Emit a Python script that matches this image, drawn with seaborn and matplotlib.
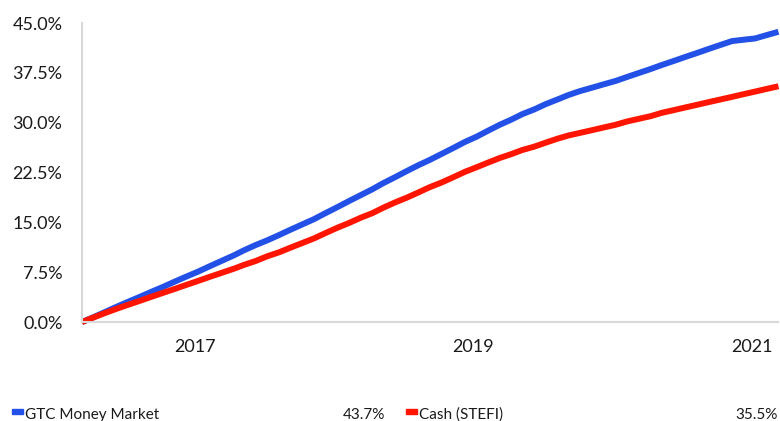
import pandas as pd
import matplotlib.pyplot as plt
import matplotlib.transforms as mtransforms
import seaborn as sns

# monthly cumulative returns (%), Jan 2016 - Jan 2021
dates = pd.date_range('2016-01-01', '2021-01-01', freq='MS')
gtc_money_market = [0.0, 0.75, 1.5, 2.3, 3.05, 3.8, 4.55, 5.3, 6.1, 6.85, 7.6, 8.4,
                    9.2, 10.0, 10.8, 11.6, 12.3, 13.1, 13.9, 14.7, 15.5, 16.4, 17.3, 18.2,
                    19.1, 20.0, 20.9, 21.8, 22.7, 23.6, 24.4, 25.3, 26.2, 27.1, 27.9, 28.8,
                    29.7, 30.5, 31.3, 32.0, 32.8, 33.5, 34.2, 34.8, 35.3, 35.8, 36.3, 36.9,
                    37.5, 38.1, 38.7, 39.3, 39.9, 40.5, 41.1, 41.7, 42.3, 42.5, 42.7, 43.2,
                    43.7]
cash_stefi = [0.0, 0.7, 1.35, 2.0, 2.6, 3.2, 3.8, 4.4, 5.0, 5.6, 6.2, 6.8,
              7.4, 8.0, 8.6, 9.2, 9.9, 10.5, 11.2, 11.9, 12.6, 13.4, 14.2, 14.9,
              15.7, 16.4, 17.2, 18.0, 18.7, 19.5, 20.3, 21.0, 21.8, 22.6, 23.3, 24.0,
              24.7, 25.3, 25.9, 26.4, 27.0, 27.6, 28.1, 28.5, 28.9, 29.3, 29.7, 30.2,
              30.6, 31.0, 31.5, 31.9, 32.3, 32.7, 33.1, 33.5, 33.9, 34.3, 34.7, 35.1,
              35.5]
series_names = ['GTC Money Market', 'Cash (STEFI)']
final_values = ['43.7%', '35.5%']
colors = ['#2350e6', '#ff1500']
tick_years = ['2016', '2017', '2019', '2021']
tick_labels = ['', '2017', '2019', '2021']
y_ticks = [0, 7.5, 15, 22.5, 30, 37.5, 45]

df = pd.DataFrame({'date': list(dates) * 2,
                   'value': gtc_money_market + cash_stefi,
                   'series': [series_names[0]] * len(dates) + [series_names[1]] * len(dates)})

sns.set_style('white')
plt.rcParams['font.family'] = ['Lato', 'DejaVu Sans']
grey = '#d9d9d9'

fig = plt.figure(figsize=(7.8, 4.21), dpi=100)
ax = fig.add_axes([0.105, 0.235, 0.893, 0.71])
sns.lineplot(data=df, x='date', y='value', hue='series', palette=colors,
             linewidth=4.3, legend=False, ax=ax, solid_capstyle='butt')

ax.set_xlim(dates[0], dates[-1])
ax.set_ylim(0, 45)
ax.set_yticks(y_ticks)
ax.set_yticklabels([f'{v:.1f}%' for v in y_ticks])
ax.set_xticks([pd.Timestamp(y + '-01-01') for y in tick_years])
ax.set_xticklabels(tick_labels, ha='right')
ax.set_xlabel('')
ax.set_ylabel('')

for s in ['top', 'right']:
    ax.spines[s].set_visible(False)
for s in ['left', 'bottom']:
    ax.spines[s].set_color(grey)
    ax.spines[s].set_linewidth(1.5)
ax.tick_params(axis='y', length=10, width=1.5, color=grey, pad=4, labelsize=13, labelcolor='#1a1a1a')
ax.tick_params(axis='x', length=12, width=1.5, color=grey, pad=0, labelsize=13, labelcolor='#1a1a1a')
offset = mtransforms.ScaledTranslation(-4 / 72, 0, fig.dpi_scale_trans)
for lbl in ax.get_xticklabels():
    lbl.set_transform(lbl.get_transform() + offset)
for line in ax.lines:
    line.set_clip_on(False)

# legend row at the bottom
legend_x = [0.015, 0.52]
value_x = [0.494, 0.997]
for i in range(2):
    fig.patches.append(plt.Rectangle((legend_x[i], 0.016), 0.015, 0.012, color=colors[i],
                                     transform=fig.transFigure, figure=fig))
    fig.text(legend_x[i] + 0.017, 0.005, series_names[i], fontsize=11, color='#1a1a1a', va='baseline')
    fig.text(value_x[i], 0.005, final_values[i], fontsize=11, color='#1a1a1a', ha='right', va='baseline')

fig.savefig('out.png', dpi=100)
